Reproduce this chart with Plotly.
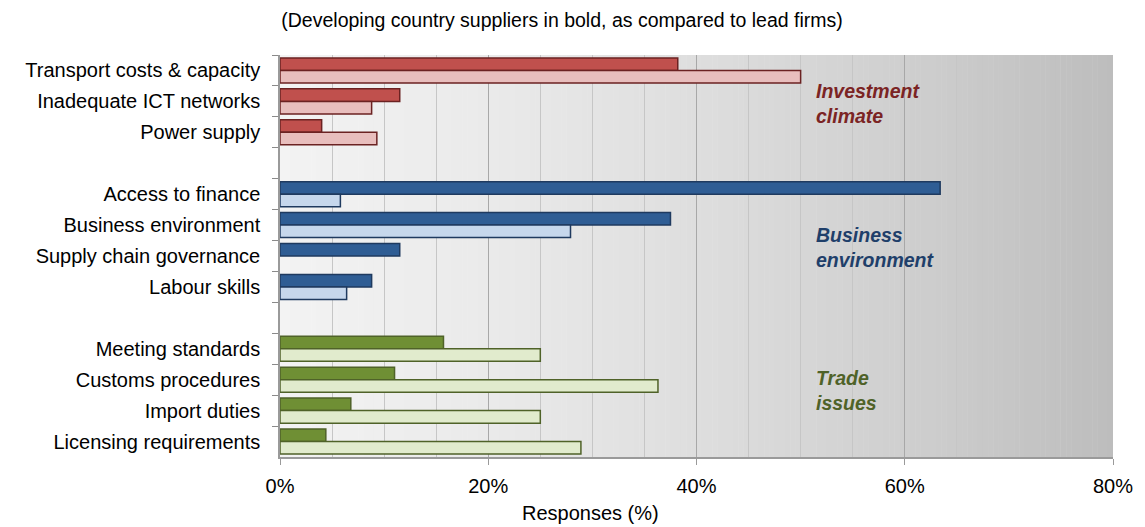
import plotly.graph_objects as go

# Categories top to bottom; blank entries separate the three groups
categories = [
    "Transport costs & capacity", "Inadequate ICT networks", "Power supply",
    " ",
    "Access to finance", "Business environment", "Supply chain governance", "Labour skills",
    "  ",
    "Meeting standards", "Customs procedures", "Import duties", "Licensing requirements",
]
groups = ["inv"] * 3 + ["bus"] * 4 + ["trade"] * 4
items = [c for c in categories if c.strip()]

# Responses (%): developing country suppliers vs lead firms
suppliers = [38.2, 11.5, 4.0, 63.4, 37.5, 11.5, 8.8, 15.7, 11.0, 6.8, 4.4]
lead_firms = [50.0, 8.8, 9.3, 5.8, 27.9, None, 6.4, 25.0, 36.3, 25.0, 28.9]

x_ticks = [0, 20, 40, 60, 80]
x_tick_labels = ["0%", "20%", "40%", "60%", "80%"]

dark_fill = {"inv": "#c0504d", "bus": "#2f5d94", "trade": "#6f8f34"}
light_fill = {"inv": "#e8bebd", "bus": "#c6d7ec", "trade": "#e1ebcd"}
edge = {"inv": "#6b2222", "bus": "#1f3a5f", "trade": "#4f6228"}

FONT = "Liberation Sans, Arial, sans-serif"
SIZE = 20

fig = go.Figure()
fig.add_trace(go.Bar(
    y=items, x=suppliers, orientation="h", name="Developing country suppliers",
    marker=dict(color=[dark_fill[g] for g in groups],
                line=dict(color=[edge[g] for g in groups], width=1.5)),
))
fig.add_trace(go.Bar(
    y=items, x=lead_firms, orientation="h", name="Lead firms",
    marker=dict(color=[light_fill[g] for g in groups],
                line=dict(color=[edge[g] for g in groups], width=1.5)),
))

# Horizontal grey gradient behind the bars
def shade(v):
    pts = [(0, 243), (20, 234), (40, 222), (60, 207), (80, 189)]
    for (a, ca), (b, cb) in zip(pts, pts[1:]):
        if a <= v <= b:
            return ca + (cb - ca) * (v - a) / (b - a)
    return pts[-1][1]

shapes = []
step = 0.5
n = int(80 / step)
for i in range(n):
    x0 = i * step
    g = int(round(shade(x0 + step / 2)))
    shapes.append(dict(type="rect", xref="x", yref="paper", x0=x0, x1=x0 + step + 0.05,
                       y0=0, y1=1, fillcolor=f"rgb({g},{g},{g})", line=dict(width=0),
                       layer="below"))
fig.update_layout(shapes=shapes)

annos = [
    dict(text="<b><i>Investment<br>climate</i></b>", color="#7b2424", y=0.88),
    dict(text="<b><i>Business<br>environment</i></b>", color="#1f3f6a", y=0.52),
    dict(text="<b><i>Trade<br>issues</i></b>", color="#4f6228", y=0.165),
]
for a in annos:
    fig.add_annotation(text=a["text"], xref="x", yref="paper", x=51.3, y=a["y"],
                       xanchor="left", yanchor="middle", align="left", showarrow=False,
                       font=dict(family=FONT, size=19.5, color=a["color"]))

fig.add_annotation(text="Responses (%)", xref="paper", yref="paper",
                   x=(591 - 280) / 835, y=-0.14, xanchor="center", yanchor="middle",
                   showarrow=False, font=dict(family=FONT, size=SIZE, color="#000"))

fig.update_layout(
    width=1145, height=527,
    margin=dict(l=280, r=30, t=55, b=70),
    paper_bgcolor="white", plot_bgcolor="rgba(0,0,0,0)",
    barmode="group", bargap=0.19, bargroupgap=0,
    showlegend=False,
    font=dict(family=FONT, size=SIZE, color="#000"),
    title=dict(text="(Developing country suppliers in bold, as compared to lead firms)",
               x=562 / 1145, xanchor="center", y=1 - 20 / 527, yanchor="middle",
               font=dict(family=FONT, size=19.5, color="#000")),
    xaxis=dict(range=[0, 80], tickvals=x_ticks, ticktext=x_tick_labels,
               showgrid=True, gridcolor="#a8a8a8", gridwidth=1.2,
               minor=dict(dtick=5, showgrid=True, gridcolor="#c6c6c6", gridwidth=1),
               showline=True, linecolor="#9a9a9a", linewidth=1.5,
               ticks="outside", ticklen=6, tickcolor="#9a9a9a",
               ticklabelstandoff=4,
               zeroline=False, mirror=False, layer="below traces"),
    yaxis=dict(type="category", categoryorder="array", categoryarray=categories,
               autorange="reversed", tickson="boundaries",
               ticks="outside", ticklen=6, tickcolor="#8a8a8a",
               showline=True, linecolor="#9a9a9a", linewidth=1.5,
               showgrid=False, ticklabelstandoff=14),
)

fig.write_html("out.html")
